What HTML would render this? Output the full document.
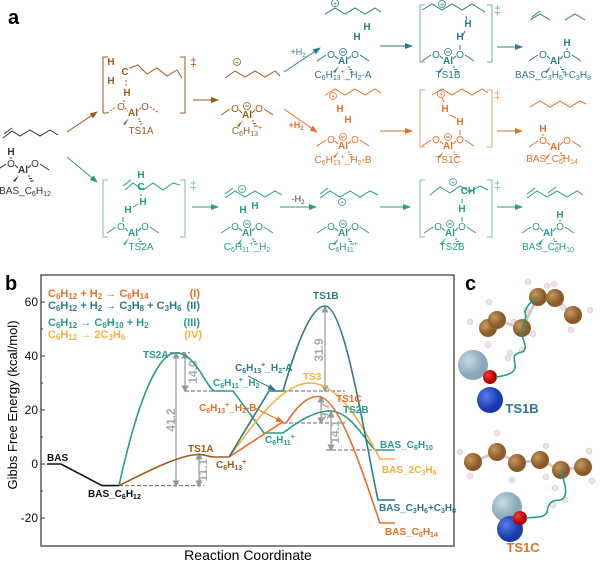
<!DOCTYPE html><html><head><meta charset="utf-8"><style>
body{margin:0;background:#fff}
svg{display:block;font-family:"Liberation Sans",Arial,sans-serif}
.s text{text-anchor:middle;font-size:10px}
.s .al{font-weight:bold}
</style></head><body>
<svg width="600" height="564" viewBox="0 0 600 564">
<defs>
<marker id="ab" markerWidth="8" markerHeight="6" refX="7" refY="3" orient="auto"><path d="M0 0L8 3L0 6Z" fill="#9b5a1e"/></marker>
<marker id="at" markerWidth="8" markerHeight="6" refX="7" refY="3" orient="auto"><path d="M0 0L8 3L0 6Z" fill="#2a9a8a"/></marker>
<marker id="ad" markerWidth="8" markerHeight="6" refX="7" refY="3" orient="auto"><path d="M0 0L8 3L0 6Z" fill="#2c7a88"/></marker>
<marker id="ao" markerWidth="8" markerHeight="6" refX="7" refY="3" orient="auto"><path d="M0 0L8 3L0 6Z" fill="#e3712a"/></marker>
<marker id="ag" markerWidth="6" markerHeight="6" refX="3" refY="3" orient="auto-start-reverse"><path d="M0 0L6 3L0 6Z" fill="#999"/></marker>
</defs>
<text x="8" y="24" font-size="20" font-weight="bold">a</text>
<text x="5" y="290" font-size="20" font-weight="bold">b</text>
<text x="465" y="290" font-size="20" font-weight="bold">c</text>

<!-- ===== panel a ===== -->
<g fill="none" stroke-width="1">
<polyline points="3,138 12,131 20,136 30,130 40,136 50,130 58,135" stroke="#333"/>
<line x1="4" y1="134" x2="12" y2="128" stroke="#333"/>
<line x1="67" y1="132" x2="97" y2="112" stroke="#9b5a1e" marker-end="url(#ab)"/>
<line x1="67" y1="157" x2="97" y2="182" stroke="#2a9a8a" marker-end="url(#at)"/>
<line x1="193" y1="100" x2="218" y2="100" stroke="#9b5a1e" marker-end="url(#ab)"/>
<line x1="192" y1="207" x2="218" y2="207" stroke="#2a9a8a" marker-end="url(#at)"/>
<line x1="280" y1="207" x2="316" y2="207" stroke="#2a9a8a" marker-end="url(#at)"/>
<line x1="380" y1="207" x2="410" y2="207" stroke="#2a9a8a" marker-end="url(#at)"/>
<line x1="497" y1="207" x2="522" y2="207" stroke="#2a9a8a" marker-end="url(#at)"/>
<line x1="284" y1="72" x2="320" y2="48" stroke="#2c7a88" marker-end="url(#ad)"/>
<line x1="380" y1="46" x2="412" y2="46" stroke="#2c7a88" marker-end="url(#ad)"/>
<line x1="497" y1="47" x2="522" y2="47" stroke="#2c7a88" marker-end="url(#ad)"/>
<line x1="284" y1="109" x2="317" y2="132" stroke="#e3712a" marker-end="url(#ao)"/>
<line x1="380" y1="131" x2="412" y2="131" stroke="#e3712a" marker-end="url(#ao)"/>
<line x1="497" y1="131" x2="522" y2="131" stroke="#e3712a" marker-end="url(#ao)"/>
<path d="M108 57H103V113H108M180 57H185V113H180" stroke="#9b5a1e"/>
<path d="M108 180H103V237H108M180 180H185V237H180" stroke="#7fb8b0"/>
<path d="M425 5H420V62H425M487 5H492V62H487" stroke="#7aa4ac"/>
<path d="M425 90H420V147H425M487 90H492V147H487" stroke="#eba070"/>
<path d="M425 180H420V237H425M487 180H492V237H487" stroke="#7fb8b0"/>
<polyline points="130,68 138,65 147,74 157,68 167,76 177,70 182,78" stroke="#9b5a1e"/>
<polyline points="225,78 235,71 245,77 255,71 265,77 275,71 280,76" stroke="#9b5a1e"/>
<polyline points="125,190 133,183 143,190 153,183 163,190 173,183 180,185" stroke="#2a9a8a"/>
<line x1="123" y1="186" x2="131" y2="180" stroke="#2a9a8a"/>
<polyline points="225,198 235,191 245,197 255,191 265,197 275,191 282,195" stroke="#2a9a8a"/>
<line x1="225" y1="194" x2="233" y2="188" stroke="#2a9a8a"/>
<polyline points="320,198 330,191 340,197 350,191 360,197 370,191 378,195" stroke="#2a9a8a"/>
<line x1="320" y1="194" x2="328" y2="188" stroke="#2a9a8a"/>
<polyline points="430,195 440,187 450,193 460,186 470,192 480,186 488,190" stroke="#2a9a8a"/>
<polyline points="527,198 537,191 547,197 557,191 567,197 577,191 583,195" stroke="#2a9a8a"/>
<line x1="527" y1="194" x2="535" y2="188" stroke="#2a9a8a"/><line x1="548" y1="193" x2="556" y2="187" stroke="#2a9a8a"/>
<polyline points="325,14 335,8 345,14 355,8 365,14 375,8 381,12" stroke="#2c7a88"/>
<polyline points="422,10 432,4 442,10 452,4 462,10 472,4 485,12" stroke="#2c7a88"/>
<polyline points="530,20 540,14 550,20" stroke="#2c7a88"/><line x1="532" y1="17" x2="540" y2="11" stroke="#2c7a88"/>
<polyline points="565,20 575,14 585,20" stroke="#2c7a88"/>
<polyline points="325,95 335,89 345,95 355,89 365,95 375,89 381,93" stroke="#e3712a"/>
<polyline points="432,95 442,89 452,95 462,89 472,95 482,89 488,93" stroke="#e3712a"/>
<polyline points="530,107 540,101 550,107 560,101 570,107 580,101 586,104" stroke="#e3712a"/>
</g>
<g font-size="12" fill="#333"><text x="190" y="66" fill="#9b5a1e">‡</text><text x="190" y="189" fill="#7fb8b0">‡</text><text x="494" y="14" fill="#7aa4ac">‡</text><text x="494" y="99" fill="#eba070">‡</text><text x="494" y="189" fill="#7fb8b0">‡</text></g>
<g font-size="9" text-anchor="middle">
<text x="298" y="55" fill="#2c7a88">+H<tspan font-size="6" dy="2">2</tspan></text>
<text x="296" y="128" fill="#e3712a" font-weight="bold">+H<tspan font-size="6" dy="2">2</tspan></text>
<text x="298" y="202" fill="#333">-H<tspan font-size="6" dy="2">2</tspan></text>
</g>
<g fill="none" stroke-width="0.8">
<g stroke="#9b5a1e"><circle cx="237" cy="62" r="3.5"/></g>
<g stroke="#2a9a8a"><circle cx="242" cy="189" r="3.5"/><circle cx="342" cy="202" r="3.5"/><circle cx="453" cy="182" r="3.5"/></g>
<g stroke="#2c7a88"><circle cx="335" cy="3" r="3.5"/><circle cx="442" cy="4" r="3.5"/></g>
<g stroke="#e3712a"><circle cx="333" cy="96" r="3.5"/><circle cx="441" cy="94" r="3.5"/></g>
</g>
<g font-size="7" text-anchor="middle">
<text x="237" y="65" fill="#9b5a1e">+</text><text x="242" y="192" fill="#2a9a8a">+</text><text x="342" y="205" fill="#2a9a8a">+</text><text x="453" y="185" fill="#2a9a8a">+</text><text x="335" y="6" fill="#2c7a88">+</text><text x="442" y="7" fill="#2c7a88">+</text><text x="333" y="99" fill="#e3712a">+</text><text x="441" y="97" fill="#e3712a">+</text>
</g>

<g class="s" fill="#333" stroke="none">
<g transform="translate(23,169)"><text class="al" y="4">Al</text><text x="-12" y="-2">O</text><text x="12" y="-2">O</text><text x="-12" y="-14" class="al">H</text><path d="M-26 1L-17-5M-8-4L-5-1M8-4L5-1M17-5L26 1M5 7h2M6 9.5h3M7 12h4M-12-12V-10" stroke="#333" fill="none"/><path d="M-4 6L-10 12L-8 13Z"/><text y="25" x="2">BAS_C<tspan font-size="7" dy="2">6</tspan><tspan dy="-2">H</tspan><tspan font-size="7" dy="2">12</tspan></text></g>
</g>
<g class="s" fill="#9b5a1e">
<g transform="translate(133,112)"><text class="al" y="4">Al</text><text x="-12" y="-2">O</text><text x="12" y="-2">O</text><text x="-6" y="-16" class="al">H</text><text x="-8" y="-37" class="al">C</text><text x="-22" y="-47" class="al">H</text><text x="-22" y="-28" class="al">H</text><path d="M-26 1L-17-5M-8-4L-5-1M8-4L5-1M17-5L26 1M5 7h2M6 9.5h3M7 12h4M-9-12V-8M-7-32V-26" stroke="#9b5a1e" stroke-dasharray="2 1.5" fill="none"/><path d="M-4 6L-10 12L-8 13Z"/><text y="22" x="8">TS1A</text></g>
<g transform="translate(247,114)"><text class="al" y="4">Al</text><text x="-12" y="-2">O</text><text x="12" y="-2">O</text><circle cy="-8" r="3.5" fill="none" stroke="#9b5a1e" stroke-width="0.8"/><path d="M-2-8h4M-26 1L-17-5M-8-4L-5-1M8-4L5-1M17-5L26 1M5 7h2M6 9.5h3M7 12h4" stroke="#9b5a1e" fill="none"/><path d="M-4 6L-10 12L-8 13Z"/><text y="20">C<tspan font-size="7" dy="2">6</tspan><tspan dy="-2">H</tspan><tspan font-size="7" dy="2">13</tspan><tspan font-size="7" dy="-6">+</tspan></text></g>
</g>
<g class="s" fill="#2a9a8a">
<g transform="translate(133,232)"><text class="al" y="4">Al</text><text x="-12" y="-2">O</text><text x="12" y="-2">O</text><text x="-5" y="-19" class="al">H</text><text x="10" y="-27" class="al">H</text><text x="8" y="-42" class="al">C</text><text x="8" y="-54" class="al">H</text><path d="M-26 1L-17-5M-8-4L-5-1M8-4L5-1M17-5L26 1M5 7h2M6 9.5h3M7 12h4M-10-15V-10M0-25L5-28M8-38V-36" stroke="#2a9a8a" fill="none"/><path d="M-4 6L-10 12L-8 13Z"/><text y="18" x="8">TS2A</text></g>
<g transform="translate(247,232)"><text class="al" y="4">Al</text><text x="-12" y="-2">O</text><text x="12" y="-2">O</text><text x="-4" y="-19" class="al">H</text><text x="8" y="-23" class="al">H</text><circle cy="-8" r="3.5" fill="none" stroke="#2a9a8a" stroke-width="0.8"/><path d="M-2-8h4M-26 1L-17-5M-8-4L-5-1M8-4L5-1M17-5L26 1M5 7h2M6 9.5h3M7 12h4" stroke="#2a9a8a" fill="none"/><path d="M-4 6L-10 12L-8 13Z"/><text y="18">C<tspan font-size="7" dy="2">6</tspan><tspan dy="-2">H</tspan><tspan font-size="7" dy="2">11</tspan><tspan font-size="7" dy="-6">+</tspan><tspan dy="4">_H</tspan><tspan font-size="7" dy="2">2</tspan></text></g>
<g transform="translate(343,232)"><text class="al" y="4">Al</text><text x="-12" y="-2">O</text><text x="12" y="-2">O</text><circle cy="-8" r="3.5" fill="none" stroke="#2a9a8a" stroke-width="0.8"/><path d="M-2-8h4M-26 1L-17-5M-8-4L-5-1M8-4L5-1M17-5L26 1M5 7h2M6 9.5h3M7 12h4" stroke="#2a9a8a" fill="none"/><path d="M-4 6L-10 12L-8 13Z"/><text y="18">C<tspan font-size="7" dy="2">6</tspan><tspan dy="-2">H</tspan><tspan font-size="7" dy="2">11</tspan><tspan font-size="7" dy="-6">+</tspan></text></g>
<g transform="translate(450,232)"><text class="al" y="4">Al</text><text x="-12" y="-2">O</text><text x="12" y="-2">O</text><text x="12" y="-20" class="al">H</text><text x="18" y="-38" class="al">CH</text><circle cy="-8" r="3.5" fill="none" stroke="#2a9a8a" stroke-width="0.8"/><path d="M-2-8h4M-26 1L-17-5M-8-4L-5-1M8-4L5-1M17-5L26 1M5 7h2M6 9.5h3M7 12h4M12-15V-10M12-33V-29" stroke="#2a9a8a" fill="none"/><path d="M-4 6L-10 12L-8 13Z"/><text y="18" x="2">TS2B</text></g>
<g transform="translate(548,232)"><text class="al" y="4">Al</text><text x="-12" y="-2">O</text><text x="12" y="-2">O</text><text x="12" y="-14" class="al">H</text><path d="M-26 1L-17-5M-8-4L-5-1M8-4L5-1M17-5L26 1M5 7h2M6 9.5h3M7 12h4M12-12V-10" stroke="#2a9a8a" fill="none"/><path d="M-4 6L-10 12L-8 13Z"/><text y="18">BAS_C<tspan font-size="7" dy="2">6</tspan><tspan dy="-2">H</tspan><tspan font-size="7" dy="2">10</tspan></text></g>
</g>
<g class="s" fill="#2c7a88">
<g transform="translate(343,60)"><text class="al" y="4">Al</text><text x="-12" y="-2">O</text><text x="12" y="-2">O</text><text x="14" y="-20" class="al">H</text><text x="24" y="-30" class="al">H</text><circle cy="-8" r="3.5" fill="none" stroke="#2c7a88" stroke-width="0.8"/><path d="M-2-8h4M-26 1L-17-5M-8-4L-5-1M8-4L5-1M17-5L26 1M5 7h2M6 9.5h3M7 12h4" stroke="#2c7a88" fill="none"/><path d="M-4 6L-10 12L-8 13Z"/><text y="18">C<tspan font-size="7" dy="2">6</tspan><tspan dy="-2">H</tspan><tspan font-size="7" dy="2">13</tspan><tspan font-size="7" dy="-6">+</tspan><tspan dy="4">_H</tspan><tspan font-size="7" dy="2">2</tspan><tspan dy="-2">-A</tspan></text></g>
<g transform="translate(448,60)"><text class="al" y="4">Al</text><text x="-12" y="-2">O</text><text x="12" y="-2">O</text><text x="12" y="-20" class="al">H</text><text x="20" y="-33" class="al">H</text><circle cy="-8" r="3.5" fill="none" stroke="#2c7a88" stroke-width="0.8"/><path d="M-2-8h4M-26 1L-17-5M-8-4L-5-1M8-4L5-1M17-5L26 1M5 7h2M6 9.5h3M7 12h4M12-15V-10M17-29L15-25M18-44L19-40" stroke="#2c7a88" fill="none"/><path d="M-4 6L-10 12L-8 13Z"/><text y="18">TS1B</text></g>
<g transform="translate(555,60)"><text class="al" y="4">Al</text><text x="-12" y="-2">O</text><text x="12" y="-2">O</text><text x="12" y="-14" class="al">H</text><path d="M-26 1L-17-5M-8-4L-5-1M8-4L5-1M17-5L26 1M5 7h2M6 9.5h3M7 12h4M12-12V-10" stroke="#2c7a88" fill="none"/><path d="M-4 6L-10 12L-8 13Z"/><text y="18" x="-2">BAS_C<tspan font-size="7" dy="2">3</tspan><tspan dy="-2">H</tspan><tspan font-size="7" dy="2">6</tspan><tspan dy="-2">+C</tspan><tspan font-size="7" dy="2">3</tspan><tspan dy="-2">H</tspan><tspan font-size="7" dy="2">8</tspan></text></g>
</g>
<g class="s" fill="#e3712a">
<g transform="translate(343,145)"><text class="al" y="4">Al</text><text x="-12" y="-2">O</text><text x="12" y="-2">O</text><text x="5" y="-22" class="al">H</text><text x="-3" y="-33" class="al">H</text><circle cy="-8" r="3.5" fill="none" stroke="#e3712a" stroke-width="0.8"/><path d="M-2-8h4M-26 1L-17-5M-8-4L-5-1M8-4L5-1M17-5L26 1M5 7h2M6 9.5h3M7 12h4" stroke="#e3712a" fill="none"/><path d="M-4 6L-10 12L-8 13Z"/><text y="18">C<tspan font-size="7" dy="2">6</tspan><tspan dy="-2">H</tspan><tspan font-size="7" dy="2">13</tspan><tspan font-size="7" dy="-6">+</tspan><tspan dy="4">_H</tspan><tspan font-size="7" dy="2">2</tspan><tspan dy="-2">-B</tspan></text></g>
<g transform="translate(448,145)"><text class="al" y="4">Al</text><text x="-12" y="-2">O</text><text x="12" y="-2">O</text><text x="12" y="-20" class="al">H</text><text x="-3" y="-33" class="al">H</text><circle cy="-8" r="3.5" fill="none" stroke="#e3712a" stroke-width="0.8"/><path d="M-2-8h4M-26 1L-17-5M-8-4L-5-1M8-4L5-1M17-5L26 1M5 7h2M6 9.5h3M7 12h4M12-15V-10M2-30L8-27M-6-47L-4-43" stroke="#e3712a" fill="none"/><path d="M-4 6L-10 12L-8 13Z"/><text y="18">TS1C</text></g>
<g transform="translate(555,146)"><text class="al" y="4">Al</text><text x="-12" y="-2">O</text><text x="12" y="-2">O</text><text x="-12" y="-14" class="al">H</text><path d="M-26 1L-17-5M-8-4L-5-1M8-4L5-1M17-5L26 1M5 7h2M6 9.5h3M7 12h4M-12-12V-10" stroke="#e3712a" fill="none"/><path d="M-4 6L-10 12L-8 13Z"/><text y="16" x="-3">BAS_C<tspan font-size="7" dy="2">6</tspan><tspan dy="-2">H</tspan><tspan font-size="7" dy="2">14</tspan></text></g>
</g>

<!-- ===== panel b ===== -->
<rect x="41" y="275" width="413" height="271" fill="none" stroke="#333" stroke-width="1.2"/>
<g stroke="#333" stroke-width="1">
<path d="M41 302h4M41 356h4M41 410h4M41 464h4M41 518h4M41 329h2M41 383h2M41 437h2M41 491h2"/>
</g>
<g font-size="12" text-anchor="end" fill="#111">
<text x="38" y="306">60</text><text x="38" y="360">40</text><text x="38" y="414">20</text><text x="38" y="468">0</text><text x="38" y="522">-20</text>
</g>
<text transform="translate(17,405) rotate(-90)" font-size="13" text-anchor="middle">Gibbs Free Energy (kcal/mol)</text>
<text x="248" y="560" font-size="14" text-anchor="middle">Reaction Coordinate</text>

<g font-size="11" font-weight="bold">
<text x="48" y="297" fill="#e3712a">C<tspan font-size="8" dy="2">6</tspan><tspan dy="-2">H</tspan><tspan font-size="8" dy="2">12</tspan><tspan dy="-2"> + H</tspan><tspan font-size="8" dy="2">2</tspan><tspan dy="-2"> → C</tspan><tspan font-size="8" dy="2">6</tspan><tspan dy="-2">H</tspan><tspan font-size="8" dy="2">14</tspan></text>
<text x="48" y="309" fill="#2c7a88">C<tspan font-size="8" dy="2">6</tspan><tspan dy="-2">H</tspan><tspan font-size="8" dy="2">12</tspan><tspan dy="-2"> + H</tspan><tspan font-size="8" dy="2">2</tspan><tspan dy="-2"> → C</tspan><tspan font-size="8" dy="2">3</tspan><tspan dy="-2">H</tspan><tspan font-size="8" dy="2">8</tspan><tspan dy="-2"> + C</tspan><tspan font-size="8" dy="2">3</tspan><tspan dy="-2">H</tspan><tspan font-size="8" dy="2">6</tspan></text>
<text x="48" y="326" fill="#2a9a8a">C<tspan font-size="8" dy="2">6</tspan><tspan dy="-2">H</tspan><tspan font-size="8" dy="2">12</tspan><tspan dy="-2"> → C</tspan><tspan font-size="8" dy="2">6</tspan><tspan dy="-2">H</tspan><tspan font-size="8" dy="2">10</tspan><tspan dy="-2"> + H</tspan><tspan font-size="8" dy="2">2</tspan></text>
<text x="48" y="338" fill="#f0b040">C<tspan font-size="8" dy="2">6</tspan><tspan dy="-2">H</tspan><tspan font-size="8" dy="2">12</tspan><tspan dy="-2"> → 2C</tspan><tspan font-size="8" dy="2">3</tspan><tspan dy="-2">H</tspan><tspan font-size="8" dy="2">6</tspan></text>
<g text-anchor="end"><text x="200" y="297" fill="#e3712a">(I)</text><text x="200" y="309" fill="#2c7a88">(II)</text><text x="200" y="326" fill="#2a9a8a">(III)</text><text x="202" y="338" fill="#f0b040">(IV)</text></g>
</g>

<g stroke="#666" stroke-dasharray="4 2" fill="none">
<path d="M119 485.6H204M170 352.8H190M185 391H233M283 391H345M283 423H345M326 450H383"/>
</g>
<g stroke="#999" stroke-width="1.2" marker-start="url(#ag)" marker-end="url(#ag)">
<line x1="176" y1="484" x2="176" y2="355"/><line x1="185" y1="389" x2="185" y2="355"/>
<line x1="199" y1="484" x2="199" y2="456"/><line x1="325" y1="389" x2="325" y2="309"/>
<line x1="321" y1="421" x2="321" y2="399"/><line x1="331" y1="448" x2="331" y2="414"/>
</g>
<g fill="#aaa" font-size="12" font-weight="bold" text-anchor="middle">
<text transform="translate(175,420) rotate(-90)">41.2</text>
<text transform="translate(197,372) rotate(-90)">14.0</text>
<text transform="translate(207,470) rotate(-90)">11.1</text>
<text transform="translate(323,350) rotate(-90)">31.9</text>
<text transform="translate(329,411) rotate(-90)">9.7</text>
<text transform="translate(339,432) rotate(-90)">14.1</text>
</g>

<g fill="none" stroke-width="1.6">
<path d="M47 464L61 464L102 485.6L119 485.6" stroke="#111"/>
<path d="M119 485.6C140 390 160 352.8 176 352.8C195 352.8 205 385 214 391L233 391L264 433L283 433C300 420 315 411 330 411C350 411 365 440 375 450L395 450" stroke="#2a9a8a"/>
<path d="M229 457C250 430 280 383 310 383C340 383 365 430 380 459L395 459" stroke="#f0b040"/>
<path d="M229 457L281 423L286 423C295 410 305 396.5 318 396.5C340 396.5 365 480 380 523L395 523" stroke="#e3712a"/>
<path d="M229 457L269 391L283 391C295 350 310 306 325 306C345 306 365 440 378 500L395 500" stroke="#2c7a88"/>
<path d="M119 485.6C150 470 180 455 198 454.5C205 454 208 457 214 457L229 457" stroke="#9b5a1e"/>
</g>
<line x1="248" y1="376" x2="275" y2="390" stroke="#2c7a88" marker-end="url(#ad)"/>
<line x1="255" y1="408" x2="283" y2="422" stroke="#e3712a" marker-end="url(#ao)"/>

<g font-size="10" font-weight="bold">
<text x="47" y="461" fill="#111">BAS</text>
<text x="88" y="497" fill="#111">BAS_C<tspan font-size="7" dy="2">6</tspan><tspan dy="-2">H</tspan><tspan font-size="7" dy="2">12</tspan></text>
<text x="143" y="358" fill="#2a9a8a">TS2A</text>
<text x="213" y="386" fill="#2a9a8a">C<tspan font-size="7" dy="2">6</tspan><tspan dy="-2">H</tspan><tspan font-size="7" dy="2">11</tspan><tspan font-size="7" dy="-6">+</tspan><tspan dy="4">_H</tspan><tspan font-size="7" dy="2">2</tspan></text>
<text x="188" y="452" fill="#9b5a1e">TS1A</text>
<text x="216" y="468" fill="#9b5a1e">C<tspan font-size="7" dy="2">6</tspan><tspan dy="-2">H</tspan><tspan font-size="7" dy="2">13</tspan><tspan font-size="7" dy="-6">+</tspan></text>
<text x="313" y="299" fill="#2c7a88">TS1B</text>
<text x="235" y="371" fill="#2c7a88">C<tspan font-size="7" dy="2">6</tspan><tspan dy="-2">H</tspan><tspan font-size="7" dy="2">13</tspan><tspan font-size="7" dy="-6">+</tspan><tspan dy="4">_H</tspan><tspan font-size="7" dy="2">2</tspan><tspan dy="-2">-A</tspan></text>
<text x="303" y="380" fill="#f0b040">TS3</text>
<text x="199" y="411" fill="#e3712a">C<tspan font-size="7" dy="2">6</tspan><tspan dy="-2">H</tspan><tspan font-size="7" dy="2">13</tspan><tspan font-size="7" dy="-6">+</tspan><tspan dy="4">_H</tspan><tspan font-size="7" dy="2">2</tspan><tspan dy="-2">-B</tspan></text>
<text x="336" y="402" fill="#e3712a">TS1C</text>
<text x="343" y="413" fill="#2a9a8a">TS2B</text>
<text x="265" y="443" fill="#2a9a8a">C<tspan font-size="7" dy="2">6</tspan><tspan dy="-2">H</tspan><tspan font-size="7" dy="2">11</tspan><tspan font-size="7" dy="-6">+</tspan></text>
<text x="380" y="448" fill="#2a9a8a">BAS_C<tspan font-size="7" dy="2">6</tspan><tspan dy="-2">H</tspan><tspan font-size="7" dy="2">10</tspan></text>
<text x="382" y="473" fill="#f0b040">BAS_2C<tspan font-size="7" dy="2">3</tspan><tspan dy="-2">H</tspan><tspan font-size="7" dy="2">6</tspan></text>
<text x="379" y="511" fill="#2c7a88">BAS_C<tspan font-size="7" dy="2">3</tspan><tspan dy="-2">H</tspan><tspan font-size="7" dy="2">6</tspan><tspan dy="-2">+C</tspan><tspan font-size="7" dy="2">3</tspan><tspan dy="-2">H</tspan><tspan font-size="7" dy="2">8</tspan></text>
<text x="385" y="535" fill="#e3712a">BAS_C<tspan font-size="7" dy="2">6</tspan><tspan dy="-2">H</tspan><tspan font-size="7" dy="2">14</tspan></text>
</g>

<!-- ===== panel c ===== -->
<defs>
<radialGradient id="gC" cx="35%" cy="35%"><stop offset="0" stop-color="#c89860"/><stop offset="1" stop-color="#8a5a28"/></radialGradient>
<radialGradient id="gS" cx="35%" cy="35%"><stop offset="0" stop-color="#c8dbe4"/><stop offset="1" stop-color="#8aa8b8"/></radialGradient>
<radialGradient id="gB" cx="35%" cy="35%"><stop offset="0" stop-color="#5a7cf0"/><stop offset="1" stop-color="#1a3aa8"/></radialGradient>
<radialGradient id="gR" cx="35%" cy="35%"><stop offset="0" stop-color="#ff4040"/><stop offset="1" stop-color="#b00000"/></radialGradient>
</defs>
<g stroke="#ccc" stroke-width="3">
<polyline points="488,328 497,320 522,328 538,297 555,298 573,315" fill="none"/>
<polyline points="473,462 497,452 517,463 540,460 561,470 583,467" fill="none"/>
</g>
<g fill="#f0e0e4" stroke="#d8c0c8" stroke-width="0.5">
<circle cx="470" cy="322" r="3"/><circle cx="489" cy="302" r="3"/><circle cx="488" cy="345" r="3"/><circle cx="514" cy="322" r="3"/><circle cx="533" cy="334" r="3"/><circle cx="526" cy="310" r="3"/><circle cx="528" cy="282" r="3"/><circle cx="547" cy="286" r="3"/><circle cx="554" cy="284" r="3"/><circle cx="563" cy="307" r="3"/><circle cx="590" cy="310" r="3"/><circle cx="571" cy="330" r="3"/><circle cx="522" cy="350" r="3"/><circle cx="510" cy="353" r="3"/><circle cx="508" cy="358" r="3"/>
<circle cx="460" cy="452" r="3"/><circle cx="470" cy="476" r="3"/><circle cx="497" cy="433" r="3"/><circle cx="497" cy="452" r="3"/><circle cx="512" cy="480" r="3"/><circle cx="546" cy="446" r="3"/><circle cx="546" cy="477" r="3"/><circle cx="555" cy="488" r="3"/><circle cx="589" cy="451" r="3"/><circle cx="592" cy="481" r="3"/><circle cx="565" cy="500" r="3"/><circle cx="553" cy="505" r="3"/>
</g>
<g fill="url(#gC)">
<circle cx="488" cy="328" r="9"/><circle cx="497" cy="320" r="9"/><circle cx="522" cy="328" r="9"/><circle cx="538" cy="297" r="9"/><circle cx="555" cy="298" r="9"/><circle cx="573" cy="315" r="9"/>
<circle cx="473" cy="462" r="9"/><circle cx="497" cy="452" r="9"/><circle cx="517" cy="463" r="9"/><circle cx="540" cy="460" r="9"/><circle cx="561" cy="470" r="9"/><circle cx="583" cy="467" r="9"/>
</g>
<circle cx="473" cy="365" r="15" fill="url(#gS)"/>
<circle cx="490" cy="400" r="13" fill="url(#gB)"/>
<circle cx="490" cy="377" r="7" fill="url(#gR)"/>
<circle cx="507" cy="507" r="15" fill="url(#gS)"/>
<circle cx="510" cy="529" r="13" fill="url(#gB)"/>
<circle cx="520" cy="518" r="7" fill="url(#gR)"/>
<g fill="none" stroke="#1a9a80" stroke-width="1.5">
<path d="M496 377C510 375 516 372 515 365C514 357 512 354 522 352C528 350 524 342 522 335C520 328 528 320 525 312C528 302 535 300 538 297"/>
<path d="M526 518C535 517 545 518 547 512C548 505 550 500 560 500C568 498 566 488 563 478C560 470 564 472 561 470"/>
</g>
<g font-size="13" font-weight="bold" text-anchor="middle">
<text x="522" y="413" fill="#2c7a88">TS1B</text>
<text x="523" y="552" fill="#e3712a">TS1C</text>
</g>
</svg>
</body></html>
